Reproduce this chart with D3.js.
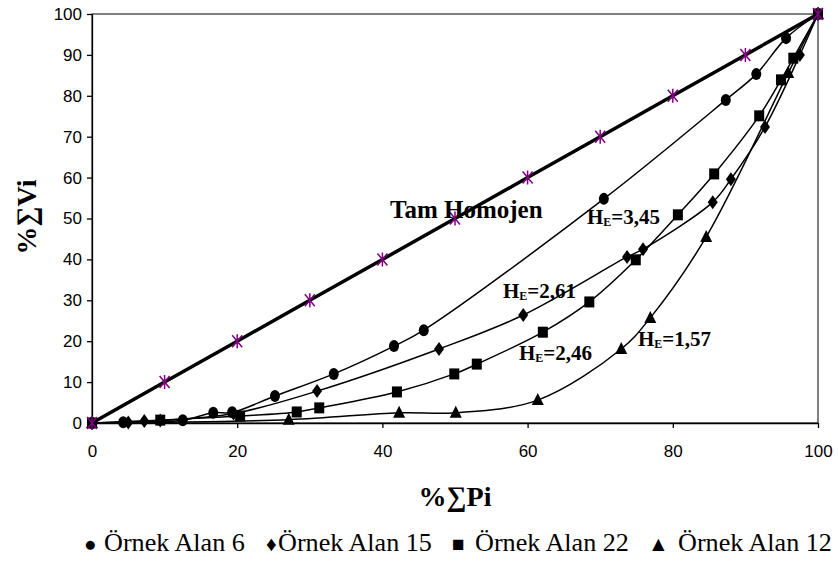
<!DOCTYPE html>
<html><head><meta charset="utf-8">
<script src="https://cdn.jsdelivr.net/npm/d3@7"></script>
<style>body{margin:0;background:#fff}
.serif{font-family:"Liberation Serif","Times New Roman",Times,"DejaVu Serif",serif}</style>
</head><body>
<svg id="c" width="838" height="569"></svg>
<script>
// Data (x = %ΣPi, y = %ΣVi)
const homojen = [[0,0],[10,10],[20,20],[30,30],[40,40],[50,50],[60,60],[70,70],[80,80],[90,90],[100,100]];
const alan6  = [[0,0],[4.3,0.2],[12.5,0.7],[16.7,2.5],[19.3,2.6],[25.2,6.6],[33.3,12.0],[41.6,18.8],[45.7,22.7],[70.5,54.8],[87.3,79.0],[91.5,85.3],[95.6,94.1],[100,100]];
const alan15 = [[0,0],[5.0,0.1],[7.2,0.5],[9.4,0.6],[19.5,2.3],[31.0,7.8],[47.8,18.1],[59.4,26.4],[73.7,40.6],[75.9,42.5],[85.5,54.0],[88.0,59.6],[92.7,72.4],[97.5,90.0],[100,100]];
const alan22 = [[0,0],[9.4,0.7],[20.4,1.7],[28.2,2.7],[31.3,3.7],[42.0,7.6],[49.9,12.0],[53.0,14.4],[62.1,22.2],[68.5,29.6],[74.9,39.9],[80.7,50.9],[85.7,60.9],[91.9,75.1],[94.9,83.9],[96.6,89.2],[100,100]];
const alan12 = [[0,0],[27.1,0.8],[42.3,2.5],[50.1,2.5],[61.4,5.6],[72.9,18.1],[76.9,25.7],[84.6,45.5],[95.9,85.6],[100,100]];
const xTicks = [0,20,40,60,80,100];
const yTicks = [0,10,20,30,40,50,60,70,80,90,100];
const heValues = ["3,45","2,61","2,46","1,57"];
const legendNames = ["Örnek Alan 6","Örnek Alan 15","Örnek Alan 22","Örnek Alan 12"];
const legendSymbols = ["●","♦","■","▲"];

const svg = d3.select("#c");
const x = d3.scaleLinear([0,100],[92,818]);
const y = d3.scaleLinear([0,100],[423,14]);

svg.append("rect").attr("x",x(0)).attr("y",y(100)).attr("width",x(100)-x(0)).attr("height",y(0)-y(100))
  .attr("fill","none").attr("stroke","#000").attr("stroke-width",1);

const ya = svg.append("g").attr("transform",`translate(${x(0)},0)`)
  .call(d3.axisLeft(y).tickValues(yTicks).tickSize(5).tickSizeOuter(0).tickPadding(5));
const xa = svg.append("g").attr("transform",`translate(0,${y(0)})`)
  .call(d3.axisBottom(x).tickValues(xTicks).tickSize(5).tickSizeOuter(0).tickPadding(17));
[ya,xa].forEach(g=>{
  g.attr("font-family",null).attr("font-size",null);
  g.selectAll("path,line").attr("stroke","#000").attr("stroke-width",1.3);
  g.selectAll("text").style("font-family","'Liberation Sans', Arial, sans-serif").style("font-size","17px").attr("fill","#000");
});

const line = d3.line().x(d=>x(d[0])).y(d=>y(d[1])).curve(d3.curveCatmullRom.alpha(0.5));
svg.append("path").datum(homojen).attr("d",d3.line().x(d=>x(d[0])).y(d=>y(d[1])))
  .attr("fill","none").attr("stroke","#000").attr("stroke-width",3.5);
[alan6,alan15,alan22,alan12].forEach(s=>{
  svg.append("path").datum(s).attr("d",line).attr("fill","none").attr("stroke","#000").attr("stroke-width",1.5);
});

const mk = svg.append("g");
mk.selectAll(".c").data(alan6).join("ellipse").attr("cx",d=>x(d[0])).attr("cy",d=>y(d[1])).attr("rx",5).attr("ry",6).attr("fill","#000");
mk.selectAll(".d").data(alan15).join("path").attr("d",d=>`M${x(d[0])},${y(d[1])-7}L${x(d[0])+5},${y(d[1])}L${x(d[0])},${y(d[1])+7}L${x(d[0])-5},${y(d[1])}Z`).attr("fill","#000");
mk.selectAll(".s").data(alan22).join("rect").attr("x",d=>x(d[0])-5).attr("y",d=>y(d[1])-5.5).attr("width",10).attr("height",11).attr("fill","#000");
mk.selectAll(".t").data(alan12).join("path").attr("d",d=>`M${x(d[0])},${y(d[1])-7}L${x(d[0])+6},${y(d[1])+5}L${x(d[0])-6},${y(d[1])+5}Z`).attr("fill","#000");
mk.selectAll(".h").data(homojen).join("path").attr("d",d=>{const cx=x(d[0]),cy=y(d[1]);return `M${cx-5},${cy-6}L${cx+5},${cy+6}M${cx+5},${cy-6}L${cx-5},${cy+6}M${cx},${cy-7}L${cx},${cy+7}`;})
  .attr("stroke","#800080").attr("stroke-width",1.5).attr("fill","none");

svg.append("text").attr("class","serif").attr("x",390).attr("y",218).style("font-weight","bold").style("font-size","25px").text("Tam Homojen");
const hePos = [[587,224],[503,298],[519,360],[638,346]];
heValues.forEach((v,i)=>{
  const t = svg.append("text").attr("class","serif").attr("x",hePos[i][0]).attr("y",hePos[i][1]).style("font-weight","bold").style("font-size","21px");
  t.append("tspan").text("H");
  t.append("tspan").style("font-size","12px").attr("dy",2).text("E");
  t.append("tspan").attr("dy",-2).text("="+v);
});

svg.append("text").attr("class","serif").attr("x",455).attr("y",506).attr("text-anchor","middle").style("font-weight","bold").style("font-size","28px").text("%∑Pi");
svg.append("text").attr("class","serif").attr("transform","translate(36,217) rotate(-90)").attr("text-anchor","middle").style("font-weight","bold").style("font-size","28px").text("%∑Vi");

// legend
const symX = [84,266,452,648];
const nameX = [104,278,475,678];
const lg = svg.append("g");
const names = lg.selectAll(".ln").data(legendNames).join("text").attr("class","serif")
  .attr("x",(d,i)=>nameX[i]).attr("y",551).style("font-size","22px").style("font-weight","500").text(d=>d);
const w15 = names.nodes()[1].getComputedTextLength();
const fs = 22*154/w15;
names.style("font-size",fs+"px");
lg.selectAll(".ls").data(legendSymbols).join("text").attr("class","serif")
  .attr("x",(d,i)=>symX[i]).attr("y",551).style("font-size",(fs*0.8)+"px").text(d=>d);
</script>
</body></html>
